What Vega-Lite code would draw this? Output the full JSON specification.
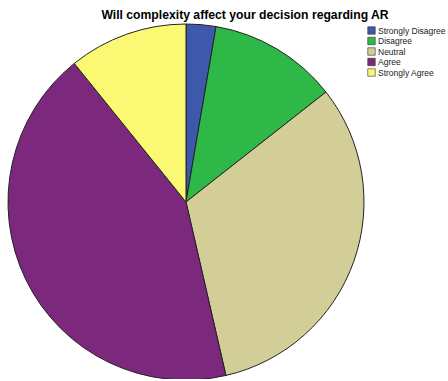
{
  "$schema": "https://vega.github.io/schema/vega-lite/v6.json",
  "width": 372,
  "height": 354,
  "autosize": {"type": "none"},
  "padding": {"left": 0, "top": 25, "right": 76, "bottom": 0},
  "background": "white",
  "config": {"view": {"stroke": null}, "font": "Liberation Sans"},
  "title": {
    "text": "Will complexity affect your decision regarding AR",
    "font": "Liberation Sans",
    "fontSize": 12.2,
    "fontWeight": "bold",
    "color": "#000000",
    "anchor": "middle",
    "dx": 59,
    "offset": 1
  },
  "data": {
    "values": [
      {"response": "Strongly Disagree", "percent": 2.7, "rank": 1},
      {"response": "Disagree", "percent": 11.7, "rank": 2},
      {"response": "Neutral", "percent": 32.0, "rank": 3},
      {"response": "Agree", "percent": 42.8, "rank": 4},
      {"response": "Strongly Agree", "percent": 10.8, "rank": 5}
    ]
  },
  "mark": {"type": "arc", "outerRadius": 178, "stroke": "#222222", "strokeWidth": 1},
  "encoding": {
    "theta": {"field": "percent", "type": "quantitative", "stack": true},
    "order": {"field": "rank", "type": "quantitative"},
    "color": {
      "field": "response",
      "type": "nominal",
      "scale": {
        "domain": ["Strongly Disagree", "Disagree", "Neutral", "Agree", "Strongly Agree"],
        "range": ["#3E58AC", "#2EB848", "#D3CE97", "#7C287D", "#FBF873"]
      },
      "legend": {
        "title": null,
        "orient": "none",
        "legendX": 367,
        "legendY": 1,
        "symbolType": "square",
        "symbolSize": 56,
        "symbolStrokeColor": "#333333",
        "symbolStrokeWidth": 0.6,
        "labelFont": "Liberation Sans",
        "labelFontSize": 8.5,
        "labelColor": "#222222",
        "labelOffset": 2,
        "rowPadding": -0.5,
        "padding": 0
      }
    }
  }
}
